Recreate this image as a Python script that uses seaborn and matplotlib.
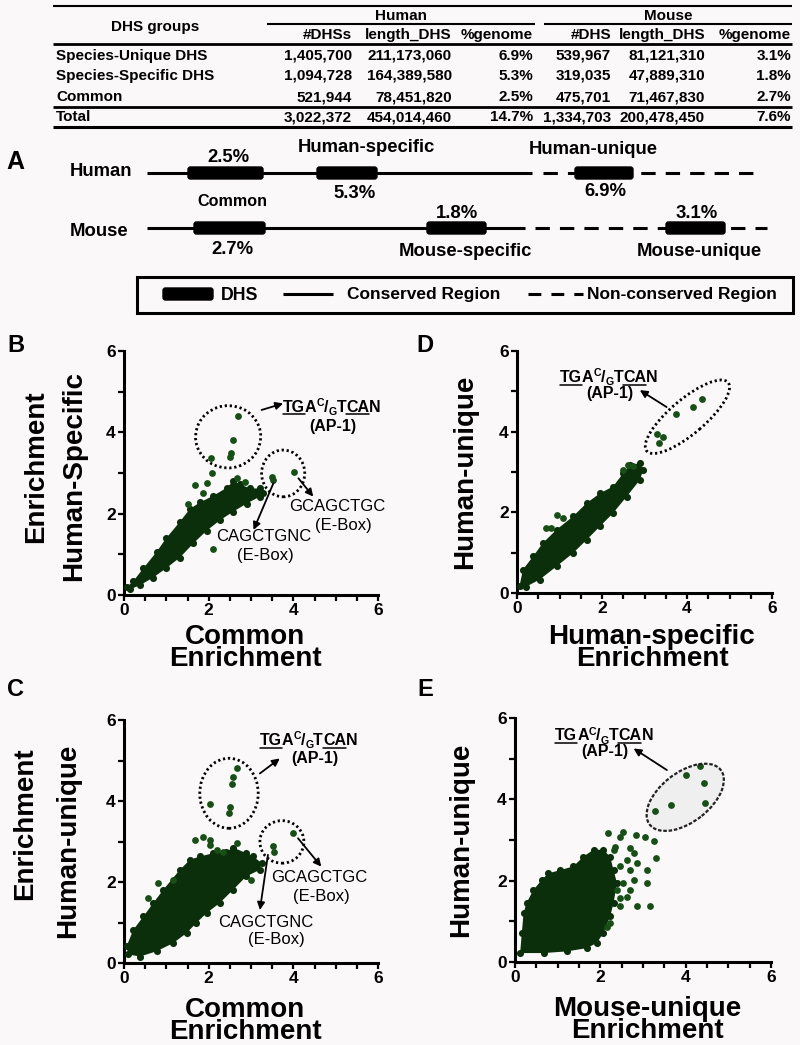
import numpy as np
import matplotlib
matplotlib.use("Agg")
import matplotlib.pyplot as plt
import seaborn as sns
from matplotlib.patches import Ellipse, Rectangle, FancyBboxPatch
from matplotlib.lines import Line2D
from matplotlib.transforms import IdentityTransform

# ---------------- table data ----------------
row_labels = ["Species-Unique DHS", "Species-Specific DHS", "Common", "Total"]
sub_headers = ["#DHSs", "length_DHS", "%genome", "#DHS", "length_DHS", "%genome"]
human_n = ["1,405,700", "1,094,728", "521,944", "3,022,372"]
human_len = ["211,173,060", "164,389,580", "78,451,820", "454,014,460"]
human_pct = ["6.9%", "5.3%", "2.5%", "14.7%"]
mouse_n = ["539,967", "319,035", "475,701", "1,334,703"]
mouse_len = ["81,121,310", "47,889,310", "71,467,830", "200,478,450"]
mouse_pct = ["3.1%", "1.8%", "2.7%", "7.6%"]

# ---------------- scatter data ----------------
# B: Common (x) vs Human-Specific (y)
b_cloud_x = [0.08, 0.22, 0.46, 0.77, 1.00, 1.32, 1.56, 1.80, 2.11, 2.43, 2.58, 2.74, 2.98, 3.21, 3.29,
             3.21, 2.90, 2.58, 2.27, 1.95, 1.64, 1.32, 1.00, 0.69, 0.38, 0.14]
b_cloud_y = [0.20, 0.34, 0.66, 1.06, 1.40, 1.80, 2.12, 2.28, 2.44, 2.64, 2.80, 2.72, 2.62, 2.62, 2.52,
             2.42, 2.25, 2.05, 1.84, 1.58, 1.27, 0.92, 0.66, 0.43, 0.24, 0.14]
b_stray_x = [1.68, 1.95, 2.07, 1.87, 2.11, 2.66, 2.85, 1.50]
b_stray_y = [2.70, 2.76, 2.99, 2.50, 1.12, 2.87, 2.78, 2.25]
b_motif_x = [2.70, 2.58, 2.52, 2.50, 2.05, 3.49, 3.53, 4.02]
b_motif_y = [4.39, 3.81, 3.48, 3.40, 3.36, 2.91, 2.83, 3.03]

# D: Human-specific (x) vs Human-unique (y)
d_cloud_x = [0.06, 0.14, 0.38, 0.61, 0.93, 1.32, 1.64, 1.95, 2.26, 2.50, 2.66, 2.89, 2.97,
             2.89, 2.58, 2.26, 1.95, 1.64, 1.32, 0.93, 0.53, 0.22]
d_cloud_y = [0.18, 0.58, 0.91, 1.24, 1.57, 1.90, 2.23, 2.47, 2.64, 2.97, 3.17, 3.22, 3.05,
             2.80, 2.39, 1.98, 1.65, 1.32, 0.99, 0.66, 0.33, 0.16]
d_stray_x = [0.93, 1.09, 0.69, 0.81, 2.50, 2.62, 2.72]
d_stray_y = [1.94, 1.85, 1.60, 1.60, 3.05, 3.18, 3.15]
d_motif_x = [4.35, 4.15, 3.74, 3.29, 3.44, 3.33]
d_motif_y = [4.82, 4.62, 4.43, 3.94, 3.86, 3.71]

# C: Common (x) vs Human-unique (y)
c_cloud_x = [0.06, 0.22, 0.46, 0.69, 0.93, 1.32, 1.56, 1.79, 2.11, 2.42, 2.58, 2.89, 3.05, 3.25,
             3.21, 2.89, 2.58, 2.26, 1.95, 1.71, 1.48, 1.16, 0.77, 0.38, 0.10]
c_cloud_y = [0.41, 0.82, 1.15, 1.48, 1.81, 2.30, 2.55, 2.63, 2.71, 2.75, 2.85, 2.71, 2.63, 2.47,
             2.30, 2.14, 1.81, 1.48, 1.23, 0.99, 0.74, 0.49, 0.29, 0.16, 0.21]
c_stray_x = [1.67, 1.87, 2.03, 2.03, 2.19, 2.34, 2.66, 3.01, 0.81, 1.16, 0.57]
c_stray_y = [3.04, 3.12, 3.04, 2.92, 2.79, 2.75, 2.96, 2.05, 1.97, 2.05, 1.60]
c_motif_x = [2.67, 2.58, 2.55, 2.03, 2.50, 2.47, 3.51, 3.54, 3.99]
c_motif_y = [4.81, 4.60, 4.42, 3.93, 3.86, 3.70, 2.88, 2.75, 3.20]

# E: Mouse-unique (x) vs Human-unique (y)
e_cloud_x = [0.12, 0.16, 0.20, 0.27, 0.43, 0.63, 0.78, 1.06, 1.37, 1.60, 1.84, 2.07, 2.23, 2.31,
             2.39, 2.31, 2.23, 2.07, 1.92, 1.68, 1.21, 0.67]
e_cloud_y = [0.22, 0.71, 1.20, 1.45, 1.77, 2.02, 2.18, 2.26, 2.35, 2.59, 2.76, 2.76, 2.59, 2.26,
             1.94, 1.45, 1.12, 0.71, 0.47, 0.34, 0.26, 0.22]
e_stray_x = [2.19, 2.53, 2.46, 2.84, 3.05, 3.25, 2.35, 2.70, 2.78, 2.31, 3.31, 2.62, 2.86, 2.46,
             2.70, 3.09, 2.78, 3.09, 2.54, 2.70, 2.62, 2.46, 2.86, 3.17, 2.23, 2.15, 2.39, 2.46]
e_stray_y = [3.16, 3.20, 3.08, 3.12, 3.08, 2.98, 2.84, 2.80, 2.67, 2.76, 2.55, 2.51, 2.43, 2.35,
             2.26, 2.26, 2.02, 1.94, 1.94, 1.77, 1.61, 1.37, 1.37, 1.38, 0.96, 0.87, 1.77, 1.57]
e_motif_x = [4.33, 4.01, 4.44, 3.65, 4.46, 3.27]
e_motif_y = [4.82, 4.61, 4.41, 3.86, 3.92, 3.71]

x_ticks = np.arange(0, 6.01, 0.5)
x_ticklabels = ["0", "", "", "", "2", "", "", "", "4", "", "", "", "6"]
y_ticks = np.arange(0, 7, 1)
y_ticklabels = ["0", "", "2", "", "4", "", "6"]

# ---------------- style ----------------
sns.set_style("ticks")
plt.rcParams["font.family"] = ["Liberation Sans", "DejaVu Sans"]
plt.rcParams["font.weight"] = "bold"
for key in ["text.color", "axes.labelcolor", "xtick.color", "ytick.color", "axes.edgecolor"]:
    plt.rcParams[key] = "black"

BG = "#faf8f8"
CLOUD = "#0b2e0b"
DOT = "#174f17"
W, H = 800, 1045

fig = plt.figure(figsize=(8, 10.45), dpi=100, facecolor=BG)
bg = fig.add_axes([0, 0, 1, 1])
bg.set_xlim(0, W)
bg.set_ylim(H, 0)
bg.axis("off")


def t(x, y, s, fs, ha="center", va="center", **kw):
    bg.text(x, y, s, fontsize=fs, ha=ha, va=va, fontweight=kw.pop("fw", "bold"), **kw)


def hline(x0, x1, y, lw=1.5, **kw):
    bg.plot([x0, x1], [y, y], color="black", lw=lw, solid_capstyle="butt", **kw)


# ---------------- table ----------------
TFS = 11
hline(53, 792, 6, 1.5)
hline(267, 535, 24, 1.5)
hline(544, 792, 24, 1.5)
hline(53, 792, 44, 2.0)
hline(53, 792, 107, 2.0)
hline(53, 792, 127, 2.2)
t(155, 27, "DHS groups", TFS)
t(401, 16, "Human", TFS)
t(668, 16, "Mouse", TFS)
col_right = [352, 452, 533, 611, 705, 791]
for xr, s in zip(col_right, sub_headers):
    t(xr, 35, s, TFS, ha="right")
row_y = [56, 76, 97, 117]
cols = [human_n, human_len, human_pct, mouse_n, mouse_len, mouse_pct]
for i, (yy, lab) in enumerate(zip(row_y, row_labels)):
    t(56, yy, lab, TFS, ha="left")
    for xr, col in zip(col_right, cols):
        t(xr, yy, col[i], TFS, ha="right")

# ---------------- panel A ----------------
t(15, 162, "A", 18)
HY, MY = 173, 228
t(101, HY - 1, "Human", 13.3)
t(99, MY + 4, "Mouse", 13.3)
dash = (0, (4.7, 3.3))
hline(147, 532, HY, 2.2)
hline(543, 762, HY, 2.2, ls=dash)
hline(147, 525, MY, 2.2)
hline(535, 767, MY, 2.2, ls=dash)
for x0, x1 in [(188, 263), (317, 377), (575, 633)]:
    bg.add_patch(FancyBboxPatch((x0, HY - 6), x1 - x0, 12, boxstyle="round,pad=0,rounding_size=2.5",
                                fc="black", ec="black", zorder=3))
for x0, x1 in [(194, 265), (427, 486), (666, 725)]:
    bg.add_patch(FancyBboxPatch((x0, MY - 6), x1 - x0, 12, boxstyle="round,pad=0,rounding_size=2.5",
                                fc="black", ec="black", zorder=3))
t(228, 157, human_pct[2], 13.3)
t(355, 194, human_pct[1], 13.3)
t(605, 191, human_pct[0], 13.3)
t(232, 249, mouse_pct[2], 13.3)
t(457, 213, mouse_pct[1], 13.3)
t(697, 214, mouse_pct[0], 13.3)
t(366, 148, "Human-specific", 13.3)
t(593, 150, "Human-unique", 13.3)
t(232, 201, "Common", 11.6)
t(465, 251, "Mouse-specific", 13.3)
t(699, 252, "Mouse-unique", 13.3)

# legend box
bg.add_patch(Rectangle((137, 277), 656, 36, fill=False, ec="black", lw=2.2))
bg.add_patch(FancyBboxPatch((163, 288), 50, 12, boxstyle="round,pad=0,rounding_size=2.5",
                            fc="black", ec="black"))
t(221, 295, "DHS", 12.8, ha="left")
hline(283, 333, 294, 2.2)
t(347, 295, "Conserved Region", 12.5, ha="left")
hline(528, 583, 294, 2.2, ls=(0, (4.2, 3.3)))
t(587, 295, "Non-conserved Region", 12.5, ha="left")

# ---------------- scatter panels ----------------
def px_axes(x0, x1, ytop, ybot):
    return fig.add_axes([x0 / W, 1 - ybot / H, (x1 - x0) / W, (ybot - ytop) / H])


def draw_scatter(ax, cx, cy, sx, sy, mx, my):
    ax.fill(cx, cy, color=CLOUD, lw=0, zorder=2)
    sns.scatterplot(x=cx, y=cy, color=CLOUD, s=26, linewidth=0, ax=ax, zorder=3, legend=False)
    sns.scatterplot(x=sx, y=sy, color=DOT, s=24, linewidth=0, ax=ax, zorder=3, legend=False)
    sns.scatterplot(x=mx, y=my, color=DOT, s=24, linewidth=0, ax=ax, zorder=4, legend=False)
    ax.set_xlim(0, 6)
    ax.set_ylim(0, 6)
    ax.set_xticks(x_ticks)
    ax.set_xticklabels(x_ticklabels)
    ax.set_yticks(y_ticks)
    ax.set_yticklabels(y_ticklabels)
    ax.set_xlabel("")
    ax.set_ylabel("")
    ax.patch.set_alpha(0)
    for side in ["top", "right"]:
        ax.spines[side].set_visible(False)
    for side in ["left", "bottom"]:
        ax.spines[side].set_linewidth(2.2)
        ax.spines[side].set_color("black")
    ax.tick_params(direction="out", length=4, width=1.6, labelsize=12.5, pad=2, colors="black")
    for lab in ax.get_xticklabels() + ax.get_yticklabels():
        lab.set_fontweight("bold")


def dotted_ellipse(ax, xy, w, h, angle=0, filled=False):
    if filled:
        ax.add_patch(Ellipse(xy, w, h, angle=angle, fc="#efefef", ec="none", zorder=1))
        ax.add_patch(Ellipse(xy, w, h, angle=angle, fill=False, ec="#222222", lw=1.6,
                             ls=(0, (1.6, 0.8)), zorder=5))
    else:
        ax.add_patch(Ellipse(xy, w, h, angle=angle, fill=False, ec="black", lw=2.0,
                             ls=(0, (0.8, 1.0)), zorder=5))


def arrow(ax, tail, head):
    ax.annotate("", xy=head, xytext=tail,
                arrowprops=dict(arrowstyle="-|>", color="black", lw=1.3, mutation_scale=11,
                                shrinkA=0, shrinkB=0), zorder=6)


renderer = fig.canvas.get_renderer()


def motif(ax, xc, yb, fs=11.5):
    X, Y = ax.transData.transform((xc, yb))
    pxs = fs * 100 / 72
    parts = [("TG", 0, 1, True), ("A", 0, 1, False), ("C", 0.36, 0.66, False), ("/", 0, 1, False),
             ("G", -0.2, 0.66, False), ("T", 0, 1, False), ("CA", 0, 1, True), ("N", 0, 1, False)]
    objs = []
    for s, dy, sc, ul in parts:
        tx = fig.text(0, 0, s, fontsize=fs * sc, fontweight="bold", ha="left", va="baseline",
                      color="black", transform=IdentityTransform())
        objs.append((tx, tx.get_window_extent(renderer).width, dy, ul))
    total = sum(o[1] for o in objs)
    x = X - total / 2
    for tx, w, dy, ul in objs:
        tx.set_position((x, Y + dy * pxs))
        if ul:
            fig.add_artist(Line2D([x, x + w], [Y - 2.5, Y - 2.5], lw=1.1, color="black",
                                  transform=IdentityTransform()))
        x += w


def label(ax, x, y, s, fw="bold", fs=11.5):
    ax.text(x, y, s, fontsize=fs, fontweight=fw, ha="center", va="center", zorder=6)


axB = px_axes(124, 378, 351, 595)
axD = px_axes(517, 772, 351, 593)
axC = px_axes(124, 378, 720, 963)
axE = px_axes(515, 771, 718, 962)

draw_scatter(axB, b_cloud_x, b_cloud_y, b_stray_x, b_stray_y, b_motif_x, b_motif_y)
draw_scatter(axD, d_cloud_x, d_cloud_y, d_stray_x, d_stray_y, d_motif_x, d_motif_y)
draw_scatter(axC, c_cloud_x, c_cloud_y, c_stray_x, c_stray_y, c_motif_x, c_motif_y)
draw_scatter(axE, e_cloud_x, e_cloud_y, e_stray_x, e_stray_y, e_motif_x, e_motif_y)

# B annotations
dotted_ellipse(axB, (2.46, 3.89), 1.54, 1.53, angle=20)
dotted_ellipse(axB, (3.76, 2.99), 1.02, 1.15)
arrow(axB, (3.25, 4.55), (3.76, 4.71))
arrow(axB, (4.12, 2.87), (4.47, 2.42))
arrow(axB, (3.53, 2.75), (3.06, 1.60))
motif(axB, 4.91, 4.51)
label(axB, 4.94, 4.14, "(AP-1)")
label(axB, 5.04, 2.17, "GCAGCTGC", fw="normal", fs=12)
label(axB, 5.18, 1.72, "(E-Box)", fw="normal", fs=12)
label(axB, 3.29, 1.43, "CAGCTGNC", fw="normal", fs=12)
label(axB, 3.33, 0.98, "(E-Box)", fw="normal", fs=12)

# D annotations
dotted_ellipse(axD, (4.01, 4.37), 2.56, 0.84, angle=42)
arrow(axD, (3.52, 4.61), (2.89, 5.03))
motif(axD, 2.16, 5.23)
label(axD, 2.19, 4.95, "(AP-1)")

# C annotations
dotted_ellipse(axC, (2.48, 4.19), 1.38, 1.73)
dotted_ellipse(axC, (3.73, 2.99), 1.04, 1.05)
arrow(axC, (3.21, 4.68), (3.68, 5.05))
arrow(axC, (4.11, 3.08), (4.66, 2.38))
arrow(axC, (3.40, 2.67), (3.21, 1.31))
motif(axC, 4.36, 5.38)
label(axC, 4.50, 5.05, "(AP-1)")
label(axC, 4.62, 2.10, "GCAGCTGC", fw="normal", fs=12)
label(axC, 4.66, 1.64, "(E-Box)", fw="normal", fs=12)
label(axC, 3.36, 0.99, "CAGCTGNC", fw="normal", fs=12)
label(axC, 3.60, 0.58, "(E-Box)", fw="normal", fs=12)

# E annotations
dotted_ellipse(axE, (3.99, 4.05), 2.14, 1.20, angle=40, filled=True)
arrow(axE, (3.56, 4.72), (2.78, 5.25))
motif(axE, 2.09, 5.45)
label(axE, 2.11, 5.17, "(AP-1)")

# panel letters and axis titles
for x, y, s in [(16, 345, "B"), (425, 345, "D"), (15, 689, "C"), (425, 690, "E")]:
    t(x, y, s, 17)

AFS = 20
t(36, 467, "Enrichment", AFS, rotation=90)
t(74, 476, "Human-Specific", AFS, rotation=90)
t(465, 472, "Human-unique", AFS, rotation=90)
t(25, 824, "Enrichment", AFS, rotation=90)
t(68, 841, "Human-unique", AFS, rotation=90)
t(461, 840, "Human-unique", AFS, rotation=90)

# two-line x titles: va="baseline" anchors the last line
LS = 0.82
t(245, 666, "Common\nEnrichment", AFS, va="baseline", linespacing=LS)
t(652, 666, "Human-specific\nEnrichment", AFS, va="baseline", linespacing=LS)
t(245, 1039, "Common\nEnrichment", AFS, va="baseline", linespacing=LS)
t(647, 1038, "Mouse-unique\nEnrichment", AFS, va="baseline", linespacing=LS)

fig.savefig("out.png", dpi=100, facecolor=BG)
